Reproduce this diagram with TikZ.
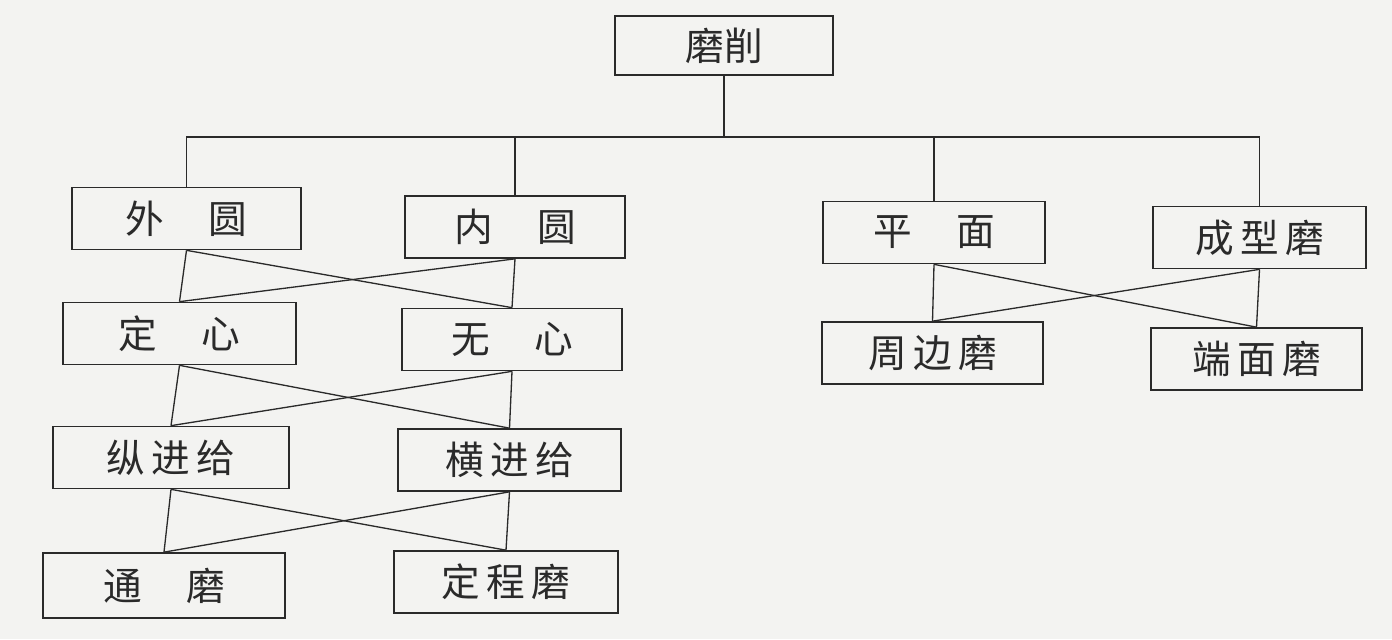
\documentclass[tikz,border=0pt]{standalone}
\usepackage{fontspec}
\usepackage{tikz}
\newfontfamily\cjk{Noto Sans CJK SC}
\definecolor{paper}{HTML}{F3F3F1}
\definecolor{ink}{HTML}{2A2A2A}

\tikzset{
    box/.style={draw=ink, line width=0.95pt, minimum height=1.24cm, inner sep=0pt,
                font=\cjk\fontsize{22}{25}\selectfont, text=ink},
    link/.style={draw=ink, line width=0.75pt}
}

\begin{document}
\begin{tikzpicture}

    % paper
    \fill[paper] (0,0) rectangle (27.84,12.78);
    \useasboundingbox (0,0) rectangle (27.84,12.78);

    % root
    \node[box, minimum width=4.36cm, minimum height=1.18cm] (moxue) at (14.48,11.87) {磨削};

    % first level
    \node[box, minimum width=4.58cm] (waiyuan) at (3.73,8.41) {外\hspace{1.15em}圆};
    \node[box, minimum width=4.40cm] (neiyuan) at (10.30,8.24) {内\hspace{1.15em}圆};
    \node[box, minimum width=4.44cm] (pingmian) at (18.68,8.13) {平\hspace{1.15em}面};
    \node[box, minimum width=4.26cm] (chengxing) at (25.19,8.03) {成\,型\,磨};

    % second level
    \node[box, minimum width=4.66cm] (dingxin) at (3.59,6.11) {定\hspace{1.15em}心};
    \node[box, minimum width=4.40cm] (wuxin) at (10.24,5.99) {无\hspace{1.15em}心};
    \node[box, minimum width=4.42cm] (zhoubian) at (18.65,5.72) {周\,边\,磨};
    \node[box, minimum width=4.22cm] (duanmian) at (25.13,5.60) {端\,面\,磨};

    % third level
    \node[box, minimum width=4.72cm] (zong) at (3.42,3.63) {纵\,进\,给};
    \node[box, minimum width=4.46cm] (heng) at (10.19,3.58) {横\,进\,给};

    % fourth level
    \node[box, minimum width=4.84cm, minimum height=1.30cm] (tong) at (3.28,1.07) {通\hspace{1.15em}磨};
    \node[box, minimum width=4.48cm] (dingcheng) at (10.12,1.14) {定\,程\,磨};

    % bus
    \coordinate (bus) at (0,10.04);
    \draw[link] (moxue.south) -- (moxue.south |- bus);
    \draw[link] (waiyuan.north) -- (waiyuan.north |- bus) -- (chengxing.north |- bus) -- (chengxing.north);
    \draw[link] (neiyuan.north) -- (neiyuan.north |- bus);
    \draw[link] (pingmian.north) -- (pingmian.north |- bus);

    % crossings
    \foreach \a/\b/\c/\d in {waiyuan/neiyuan/dingxin/wuxin, dingxin/wuxin/zong/heng,
                             zong/heng/tong/dingcheng, pingmian/chengxing/zhoubian/duanmian} {
        \draw[link] (\a.south) -- (\c.north);
        \draw[link] (\a.south) -- (\d.north);
        \draw[link] (\b.south) -- (\c.north);
        \draw[link] (\b.south) -- (\d.north);
    }

\end{tikzpicture}
\end{document}
